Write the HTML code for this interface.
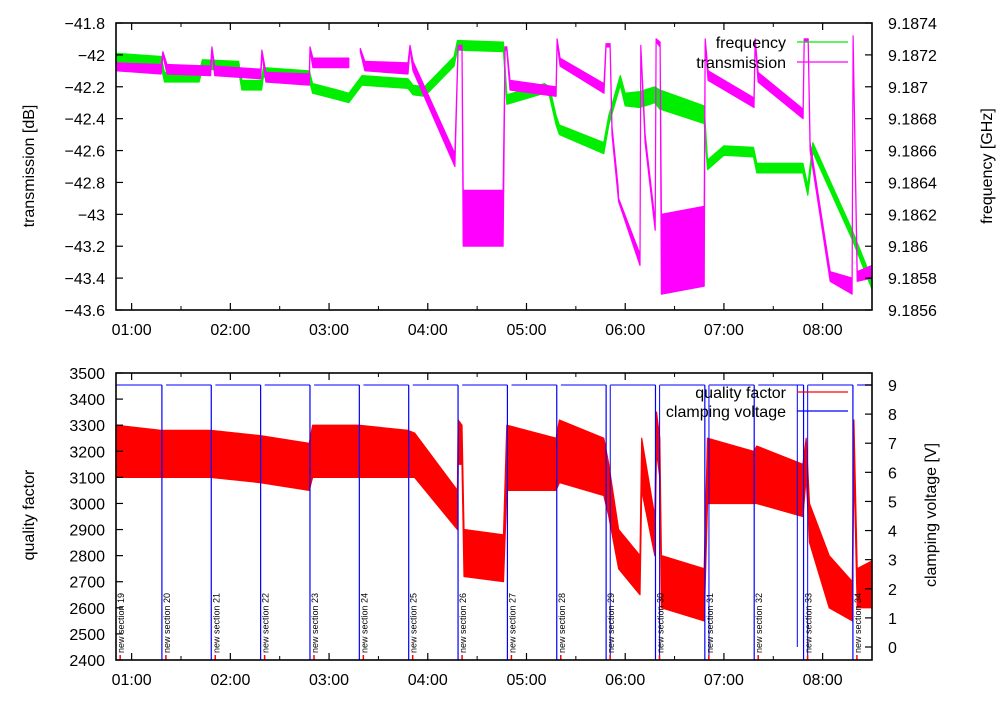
<!DOCTYPE html>
<html><head><meta charset="utf-8"><style>
body{margin:0;background:#fff}
svg{font-family:"Liberation Sans",sans-serif}
</style></head><body>
<svg id="chart" width="1000" height="700" viewBox="0 0 1000 700">
<g id="top"></g>
<g id="bot"></g>
</svg>
<script>
// time in minutes since 00:00
const timeTicks = [60,120,180,240,300,360,420,480];
const timeTickLabels = ["01:00","02:00","03:00","04:00","05:00","06:00","07:00","08:00"];
const dbTicks = [-43.6,-43.4,-43.2,-43,-42.8,-42.6,-42.4,-42.2,-42,-41.8];
const ghzTicks = [9.1856,9.1858,9.186,9.1862,9.1864,9.1866,9.1868,9.187,9.1872,9.1874];
const qTicks = [2400,2500,2600,2700,2800,2900,3000,3100,3200,3300,3400,3500];
const vTicks = [0,1,2,3,4,5,6,7,8,9];
// transmission [t, low, high] dB
const transmission = [[50.5,-42.10,-42.05],[78,-42.12,-42.06],[79,-42.0,-41.98],[81.5,-42.12,-42.06],[108,-42.13,-42.07],[108.8,-41.97,-41.95],[110.5,-42.13,-42.07],[138.5,-42.15,-42.09],[139.2,-41.99,-41.97],[141.6,-42.17,-42.11],[168,-42.19,-42.12],[168.4,-41.97,-41.95],[170.2,-42.08,-42.02],[192,-42.08,-42.02],null,[199,-41.98,-41.96],[201.8,-42.1,-42.04],[228,-42.12,-42.05],[229.2,-41.96,-41.94],[231,-42.1,-42.04],[256.5,-42.7,-42.62],[258.4,-41.96,-41.94],[260.8,-41.97,-41.94],[261.5,-43.2,-42.85],[285.8,-43.2,-42.85],[287,-41.97,-41.95],[288,-41.97,-41.95],[290,-42.22,-42.16],[318,-42.26,-42.2],[318.6,-41.92,-41.9],[320.4,-42.07,-42.02],[347.1,-42.24,-42.18],[348.3,-41.95,-41.93],[350.8,-41.95,-41.93],[352,-42.5,-42.45],[355.6,-42.88,-42.82],[356,-42.92,-42.9],[369,-43.32,-43.25],[369.5,-41.96,-41.94],[372.1,-42.55,-42.5],[378.2,-43.1,-43.05],[378.8,-41.92,-41.9],[381.2,-41.95,-41.92],[382,-43.5,-43.0],[408,-43.45,-42.95],[408.6,-41.92,-41.9],[410.4,-42.16,-42.1],[438.3,-42.33,-42.27],[439,-41.92,-41.9],[440.8,-42.17,-42.11],[468.1,-42.4,-42.34],[468.8,-41.92,-41.9],[471.2,-41.92,-41.9],[472.4,-42.6,-42.55],[484.6,-43.42,-43.36],[497.9,-43.5,-43.4],[498.5,-41.9,-41.88],[501,-43.42,-43.36],[510,-43.4,-43.32]];
// frequency [t, low, high] GHz
const frequency = [[50.5,9.18715,9.18721],[78,9.18713,9.18719],[80,9.18703,9.18709],[101,9.18703,9.18709],[103,9.18711,9.18717],[125,9.18710,9.18716],[127,9.18698,9.18704],[139,9.18698,9.18704],[140,9.18706,9.18712],[168,9.18704,9.18710],[170,9.18696,9.18702],[185,9.18692,9.18698],[192,9.18690,9.18696],[200,9.18701,9.18707],[228,9.18699,9.18705],[231,9.18695,9.18701],[238,9.18694,9.18700],[256,9.18713,9.18719],[258,9.18723,9.18729],[286,9.18722,9.18728],[288,9.18689,9.18695],[311,9.18696,9.18702],[314,9.18694,9.18700],[318,9.18676,9.18682],[320,9.18670,9.18676],[347,9.18658,9.18665],[350,9.18676,9.18682],[357,9.18701,9.18707],[360,9.18688,9.18696],[369,9.18687,9.18697],[378,9.18690,9.18700],[381,9.18686,9.18698],[408,9.18677,9.18688],[410,9.18648,9.18654],[420,9.18657,9.18663],[438,9.18656,9.18662],[440,9.18646,9.18652],[468,9.18646,9.18652],[471,9.18632,9.18638],[474,9.18659,9.18665],[498,9.18604,9.18610],[510,9.18573,9.18579]];
// quality factor [t, low, high]
const quality = [[50.5,3100,3300],[78,3100,3280],[108,3100,3280],[138,3080,3260],[168,3050,3230],[170,3100,3300],[198,3100,3300],[228,3100,3280],[232,3100,3270],[258,2900,3050],[258.5,3150,3320],[260.8,3150,3300],[262,2720,2900],[286,2700,2880],[288,3050,3300],[318,3050,3250],[320,3080,3320],[347,3030,3250],[350,2950,3150],[356,2750,2900],[369,2650,2800],[370,3050,3250],[378,2800,2950],[379,3200,3350],[381,3100,3250],[382,2600,2800],[408,2550,2750],[410,3000,3250],[438,3000,3200],[440,3000,3220],[468,2950,3150],[470,3100,3250],[472,2850,3000],[484,2600,2800],[498,2550,2700],[499,3150,3320],[501,2600,2750],[510,2600,2780]];
const sectionTimes = [50.6,78.4,108.4,138.4,168.4,198.4,228.4,258.4,288.4,318.4,348.4,378.4,408.4,438.4,468.4,498.4];
const sectionNames = ["new section 19","new section 20","new section 21","new section 22","new section 23","new section 24","new section 25","new section 26","new section 27","new section 28","new section 29","new section 30","new section 31","new section 32","new section 33","new section 34"];
const voltageHigh = 9;
const voltageRiseSections = [10,11,12,14];
const extraDropTimes = [464.6];

const NS="http://www.w3.org/2000/svg";
const X0=116,X1=872,T0=50.5,T1=510;
const xs=t=>X0+(t-T0)/(T1-T0)*(X1-X0);
function mk(parent,tag,attrs){const e=document.createElementNS(NS,tag);for(const k in attrs)e.setAttribute(k,attrs[k]);parent.appendChild(e);return e;}
function lin(d0,d1,r0,r1){return v=>r0+(v-d0)/(d1-d0)*(r1-r0);}

function frame(g,Y0,Y1,yl,leftTicks,yr,rightTicks,leftFmt,rightFmt){
  const f=mk(g,'rect',{x:X0,y:Y0,width:X1-X0,height:Y1-Y0,fill:'none',stroke:'#000','stroke-width':1.6});
  
  for(let i=0;i<timeTicks.length;i++){
    const x=xs(timeTicks[i]);
    mk(g,'line',{x1:x,y1:Y1,x2:x,y2:Y1-7,stroke:'#000','stroke-width':1.2});
    mk(g,'line',{x1:x,y1:Y0,x2:x,y2:Y0+7,stroke:'#000','stroke-width':1.2});
    const xm=xs(timeTicks[i]+30);
    if(xm<X1){mk(g,'line',{x1:xm,y1:Y1,x2:xm,y2:Y1-4,stroke:'#000','stroke-width':1});mk(g,'line',{x1:xm,y1:Y0,x2:xm,y2:Y0+4,stroke:'#000','stroke-width':1});}
    const xm0=xs(timeTicks[i]-30); if(i==0&&xm0>X0){}
    const t=mk(g,'text',{x:x,y:Y1+25,'font-size':16,'text-anchor':'middle'});t.textContent=timeTickLabels[i];
    
  }
  leftTicks.forEach(v=>{const y=yl(v);mk(g,'line',{x1:X0,y1:y,x2:X0+7,y2:y,stroke:'#000','stroke-width':1.2});
    const t=mk(g,'text',{x:105,y:y+6,'font-size':16,'text-anchor':'end'});t.textContent=leftFmt(v);
    });
  rightTicks.forEach(v=>{const y=yr(v);mk(g,'line',{x1:X1,y1:y,x2:X1-7,y2:y,stroke:'#000','stroke-width':1.2});
    const t=mk(g,'text',{x:888,y:y+6,'font-size':16,'text-anchor':'start'});t.textContent=rightFmt(v);
    });
}
function band(g,data,ys,color,name){
  let segs=[[]];data.forEach(p=>{if(p===null)segs.push([]);else segs[segs.length-1].push(p);});
  segs.forEach(s=>{if(!s.length)return;
    let d='M'+s.map(p=>xs(p[0]).toFixed(1)+','+ys(p[2]).toFixed(1)).join('L');
    d+='L'+s.slice().reverse().map(p=>xs(p[0]).toFixed(1)+','+ys(p[1]).toFixed(1)).join('L')+'Z';
    const e=mk(g,'path',{d:d,fill:color,stroke:color,'stroke-width':1.2,'stroke-linejoin':'round'});
    });
}
function axisTitle(g,x,y,txt,name){const t=mk(g,'text',{x:x,y:y,'font-size':16,'text-anchor':'middle',transform:`rotate(-90 ${x} ${y})`});t.textContent=txt;
  }
function legend(g,y,txt,color,name){const t=mk(g,'text',{x:786,y:y+6,'font-size':16,'text-anchor':'end'});t.textContent=txt;
  
  const l=mk(g,'line',{x1:797,y1:y,x2:848,y2:y,stroke:color,'stroke-width':1.2});
  }

// top panel
const gT=document.getElementById('top');
const yDB=lin(-43.6,-41.8,310,23), yGHz=lin(9.1856,9.1874,310,23);
band(gT,frequency,yGHz,'#00ee00','frequency-series');
band(gT,transmission,yDB,'#ff00ff','transmission-series');
frame(gT,23,310,yDB,dbTicks,yGHz,ghzTicks,v=>String(Math.round(v*10)/10).replace('-','\u2212'),v=>String(v));
axisTitle(gT,34,166,'transmission [dB]','y-axis-title-left');
axisTitle(gT,992,166,'frequency [GHz]','y-axis-title-right');
legend(gT,42,'frequency','#00ee00','legend-frequency');
legend(gT,62,'transmission','#ff00ff','legend-transmission');

// bottom panel
const gB=document.getElementById('bot');
const yQ=lin(2400,3500,660,373), yV=lin(0,9,647,385);
band(gB,quality,yQ,'#ff0000','quality-series');
const vTop=yV(voltageHigh);
for(let i=0;i<sectionTimes.length;i++){
  const t=sectionTimes[i], tn=i+1<sectionTimes.length?sectionTimes[i+1]:T1;
  const xa=xs(t), xb=xs(Math.min(t+2.5,T1)), xn=xs(tn);
  if(i>0){const v=mk(gB,'line',{x1:xa,y1:vTop,x2:xa,y2:660,stroke:'#0000ff','stroke-width':1.2});
    }
  if(voltageRiseSections.indexOf(i)>=0){const u=mk(gB,'line',{x1:xb,y1:vTop,x2:xb,y2:660,stroke:'#0000ff','stroke-width':1});
    }
  const h=mk(gB,'line',{x1:i>0?xb:X0,y1:vTop,x2:xn,y2:vTop,stroke:'#5555ff','stroke-width':1.6});
  
  const m=mk(gB,'line',{x1:xa+4,y1:655,x2:xa+4,y2:660,stroke:'#ff0000','stroke-width':1.5});
  
  const lx=xa+8,ly=653;
  const lb=mk(gB,'text',{x:lx,y:ly,'font-size':9,transform:`rotate(-90 ${lx} ${ly})`});lb.textContent=sectionNames[i];
  
}
extraDropTimes.forEach(t=>{const e=mk(gB,'line',{x1:xs(t),y1:vTop,x2:xs(t),y2:yV(0),stroke:'#0000ff','stroke-width':1});
  });
frame(gB,373,660,yQ,qTicks,yV,vTicks,v=>String(v),v=>String(v));
axisTitle(gB,34,515,'quality factor','y-axis-title-left');
axisTitle(gB,936,515,'clamping voltage [V]','y-axis-title-right');
legend(gB,392,'quality factor','#ff0000','legend-quality');
legend(gB,411,'clamping voltage','#0000ff','legend-voltage');
</script>
</body></html>
